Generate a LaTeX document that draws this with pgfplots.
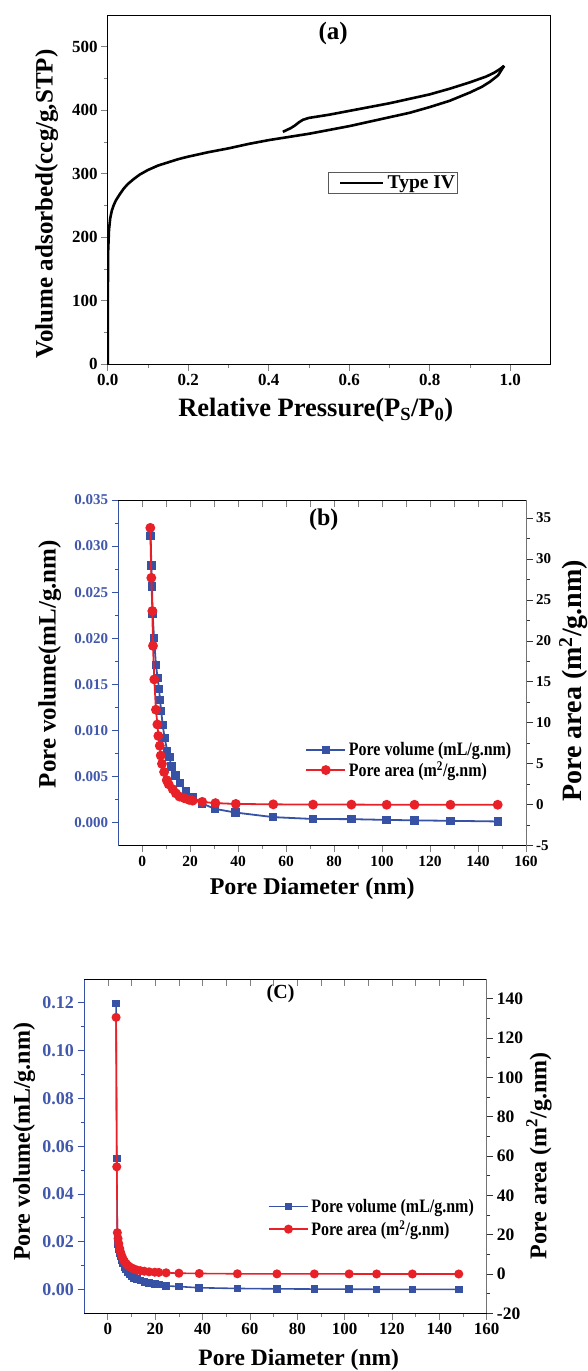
\documentclass[border=0pt]{standalone}
\usepackage{fontspec}
\setmainfont{Liberation Serif}
\newfontfamily\condfont{Liberation Serif}[FakeStretch=0.84]
\usepackage{pgfplots}
\pgfplotsset{compat=1.18}
\definecolor{pblue}{RGB}{55,82,165}
\definecolor{pred}{RGB}{232,32,40}
\definecolor{tblue}{RGB}{66,88,172}
\newcommand{\fs}[1]{\fontsize{#1}{#1}\selectfont\bfseries}
\pgfplotsset{
  every axis/.append style={scale only axis, line width=0.8pt,
    tick style={line width=0.8pt}, major tick length=6.5pt, minor tick length=3.5pt,
    tick align=outside, /pgf/number format/assume math mode=true},
  myleg/.style={legend image code/.code={\draw[mark repeat=2,mark phase=2,##1] plot coordinates {(0pt,0pt)(19.5pt,0pt)(39pt,0pt)};}},
}
\begin{document}
\begin{tikzpicture}
% ---------------- (a)
\begin{axis}[at={(107.8pt,-15pt)}, anchor=north west, width=442.6pt, height=349.3pt,
  xmin=0, xmax=1.1, ymin=0, ymax=550,
  xtick={0,0.2,0.4,0.6,0.8,1.0}, ytick={0,100,200,300,400,500},
  minor xtick={0.1,0.3,0.5,0.7,0.9}, minor ytick={50,150,250,350,450},
  xtick pos=left, ytick pos=left,
  xticklabel style={font=\fs{17}, /pgf/number format/fixed, /pgf/number format/fixed zerofill, /pgf/number format/precision=1},
  yticklabel style={font=\fs{17}},
  xlabel={Relative Pressure(P\textsubscript{S}/P\textsubscript{0})},
  xlabel style={at={(axis description cs:0.47,-0.131)}, anchor=center, font=\fs{26.5}},
  ylabel={Volume adsorbed(ccg/g,STP)},
  ylabel style={at={(axis description cs:-0.138,0.459)}, anchor=center, font=\fs{25}},
  legend style={at={(axis description cs:0.4982,0.5497)}, anchor=north west, draw=black!65, line width=0.8pt,
    font=\fs{19.5}, inner xsep=2pt, inner ysep=3pt, nodes={inner sep=0pt},
    /tikz/every odd column/.append style={column sep=3.3pt}},
  legend image code/.code={\path (0pt,0pt); \draw[#1, line width=2pt] (8pt,0pt)--(51.4pt,0pt);},
]
\addplot[black, line width=2.6pt, line join=round] coordinates {
(0,0) (0,100) (0.001,180) (0.003,212) (0.006,230) (0.01,242) (0.015,251) (0.02,258)
(0.03,268) (0.04,277) (0.05,284) (0.065,292) (0.08,299) (0.1,306) (0.125,313) (0.15,318)
(0.175,323) (0.2,327) (0.25,334) (0.3,340) (0.35,347) (0.4,353) (0.45,358) (0.5,363)
(0.55,369) (0.6,375) (0.65,382) (0.7,389) (0.75,396) (0.8,405) (0.85,415) (0.9,428)
(0.93,437) (0.95,445) (0.97,455) (0.985,470)};
\addlegendentry{Type IV}
\addplot[black, line width=2.6pt, line join=round, forget plot] coordinates {
(0.985,470) (0.975,465) (0.96,459) (0.94,453) (0.9,444) (0.85,434) (0.8,425) (0.75,418)
(0.7,411) (0.65,405) (0.6,399) (0.55,393) (0.5,388) (0.485,385) (0.475,381) (0.465,376)
(0.455,372) (0.445,369) (0.435,366)};
\node[font=\fs{25}] at (axis description cs:0.509,0.948) {(a)};
\end{axis}
% ---------------- (b) left
\begin{axis}[at={(118.3pt,-500pt)}, anchor=north west, width=407.7pt, height=345.7pt,
  xmin=-10, xmax=160, ymin=-0.0025, ymax=0.035,
  axis x line*=bottom, axis y line*=left, axis line style={-},
  y axis line style={pblue}, ytick style={pblue},
  xtick={0,20,40,60,80,100,120,140,160}, minor x tick num=1,
  ytick={0,0.005,0.01,0.015,0.02,0.025,0.03,0.035}, minor y tick num=1,
  scaled y ticks=false,
  yticklabel style={font=\fs{15}, tblue, /pgf/number format/fixed, /pgf/number format/fixed zerofill, /pgf/number format/precision=3},
  xticklabel style={font=\fs{15.5}},
  xlabel={Pore Diameter (nm)},
  xlabel style={at={(axis description cs:0.4756,-0.123)}, anchor=center, font=\fs{24}},
  ylabel={Pore volume(mL/g.nm)},
  ylabel style={at={(axis description cs:-0.168,0.525)}, anchor=center, font=\fs{25}},
]
\addplot[pblue, line width=1.8pt, mark=square*, mark size=3.3pt] coordinates {
(3.5,0.0311) (3.77,0.0279) (4.05,0.0256) (4.3,0.0227) (4.9,0.0200) (5.7,0.0171)
(6.4,0.0157) (7.0,0.0145) (7.4,0.0133) (7.9,0.0121) (8.5,0.0106) (9.3,0.0092)
(10.4,0.0078) (11.3,0.0071) (12.1,0.0061) (13.8,0.0051) (15.7,0.0043) (18.2,0.0034)
(21.1,0.0028) (24.8,0.0021) (30.2,0.0015) (38.8,0.0011) (54.6,0.0006) (71.2,0.0004)
(87.2,0.00038) (101.9,0.0003) (113.5,0.00025) (128.5,0.0002) (148.2,0.00013)};
\node[font=\fs{24}] at (axis description cs:0.504,0.942) {(b)};
\end{axis}
% ---------------- (b) right
\begin{axis}[at={(118.3pt,-500pt)}, anchor=north west, width=407.7pt, height=345.7pt,
  xmin=-10, xmax=160, ymin=-5, ymax=37.2,
  axis x line*=top, axis y line*=right, axis line style={-},
  y axis line style={black!55}, ytick style={black!80},
  xtick={0,10,...,160}, xticklabels={}, xtick align=inside, major x tick style={line width=0.6pt},
  ytick={-5,0,5,10,15,20,25,30,35}, minor y tick num=1,
  yticklabel style={font=\fs{15}},
  ylabel={Pore area (m\textsuperscript{2}/g.nm)},
  ylabel style={at={(axis description cs:1.135,0.477)}, anchor=base, font=\fs{28}},
  myleg, legend cell align=left,
  legend style={at={(axis description cs:0.458,0.300)}, anchor=north west, draw=none, fill=none,
    font=\condfont\fs{19}, inner sep=0pt, nodes={inner sep=0pt}, row sep=4.7pt,
    /tikz/every odd column/.append style={column sep=2.7pt}},
]
\addlegendimage{pblue, line width=1.8pt, mark=square*, mark size=3.3pt}
\addlegendentry{Pore volume (mL/g.nm)}
\addplot[pred, line width=1.8pt, mark=*, mark size=4pt] coordinates {
(3.35,33.8) (3.77,27.7) (4.2,23.65) (4.47,19.4) (5.0,15.3) (5.7,11.6) (6.3,9.8)
(6.7,8.4) (7.3,7.2) (7.7,6.0) (8.2,5.0) (9.1,4.0) (10.2,3.0) (11.0,2.5) (12.7,1.9)
(14,1.4) (15.5,1.0) (17.5,0.8) (19.5,0.6) (21,0.5) (25,0.35) (30.5,0.2) (39,0.1)
(54.6,0.05) (71.2,0.02) (87.2,0.02) (101.9,0) (113.5,0) (128.5,0) (148.2,0)};
\addlegendentry{Pore area (m\textsuperscript{2}/g.nm)}
\end{axis}
% ---------------- (c) left
\begin{axis}[at={(84.2pt,-979pt)}, anchor=north west, width=402.5pt, height=334.3pt,
  xmin=-10, xmax=160, ymin=-0.01, ymax=0.13,
  axis x line*=bottom, axis y line*=left, axis line style={-},
  y axis line style={pblue}, ytick style={pblue},
  xtick={0,20,40,60,80,100,120,140,160}, minor x tick num=1,
  ytick={0,0.02,0.04,0.06,0.08,0.1,0.12}, minor y tick num=1,
  scaled y ticks=false,
  yticklabel style={font=\fs{18}, tblue, /pgf/number format/fixed, /pgf/number format/fixed zerofill, /pgf/number format/precision=2},
  xticklabel style={font=\fs{17}},
  xlabel={Pore Diameter (nm)},
  xlabel style={at={(axis description cs:0.533,-0.14)}, anchor=center, font=\fs{23.5}},
  ylabel={Pore volume(mL/g.nm)},
  ylabel style={at={(axis description cs:-0.149,0.513)}, anchor=center, font=\fs{24}},
]
\addplot[pblue, line width=1.6pt, mark=square*, mark size=3pt] coordinates {
(3.47,0.1197) (3.75,0.0549) (4.0,0.0213) (4.3,0.0190) (4.6,0.0170) (5.0,0.0153)
(5.4,0.0138) (5.9,0.0123) (6.4,0.0109) (7.0,0.0095) (7.7,0.0083) (8.4,0.0073)
(9.2,0.0064) (10.1,0.0056) (11.1,0.0049) (12.3,0.0043) (13.7,0.0037) (15.4,0.0032)
(17.4,0.0027) (19.8,0.0023) (21.5,0.0020) (24.6,0.0015) (30.0,0.0012) (38.6,0.0007)
(54.7,0.0004) (71.4,0.00025) (87.2,0.00015) (101.9,0.0001) (113.5,0.00005)
(128.6,0.00003) (148.2,0.0)};
\node[font=\fs{20}] at (axis description cs:0.488,0.957) {(C)};
\end{axis}
% ---------------- (c) right
\begin{axis}[at={(84.2pt,-979pt)}, anchor=north west, width=402.5pt, height=334.3pt,
  xmin=-10, xmax=160, ymin=-20, ymax=150,
  axis x line*=top, axis y line*=right, axis line style={-},
  y axis line style={black!55}, ytick style={black!80},
  xtick={0,10,...,160}, xticklabels={}, xtick align=inside, major x tick style={line width=0.6pt},
  ytick={-20,0,20,40,60,80,100,120,140}, minor y tick num=1,
  yticklabel style={font=\fs{17.5}},
  ylabel={Pore area (m\textsuperscript{2}/g.nm)},
  ylabel style={at={(axis description cs:1.13,0.471)}, anchor=center, font=\fs{24}},
  myleg, legend cell align=left,
  legend style={at={(axis description cs:0.456,0.343)}, anchor=north west, draw=none, fill=none,
    font=\condfont\fs{19}, inner sep=0pt, nodes={inner sep=0pt}, row sep=7.1pt,
    /tikz/every odd column/.append style={column sep=2.7pt}},
]
\addlegendimage{pblue, line width=1.6pt, mark=square*, mark size=3pt}
\addlegendentry{Pore volume (mL/g.nm)}
\addplot[pred, line width=1.6pt, mark=*, mark size=3.7pt] coordinates {
(3.47,130.5) (3.75,54.5) (4.0,21.0) (4.3,18.0) (4.6,15.5) (5.0,13.0) (5.4,11.0)
(5.9,9.2) (6.4,7.7) (7.0,6.4) (7.7,5.3) (8.4,4.4) (9.2,3.6) (10.1,3.0) (11.1,2.5)
(12.3,2.0) (13.7,1.7) (15.4,1.4) (17.4,1.1) (19.8,0.9) (21.5,0.8) (24.6,0.6)
(30.0,0.4) (38.6,0.25) (54.7,0.1) (71.4,0.05) (87.2,0.03) (101.9,0.02) (113.5,0.01)
(128.6,0.0) (148.2,0.0)};
\addlegendentry{Pore area (m\textsuperscript{2}/g.nm)}
\end{axis}
\pgfresetboundingbox
\path[use as bounding box] (0pt,0pt) rectangle (587pt,-1371pt);
\end{tikzpicture}
\end{document}
